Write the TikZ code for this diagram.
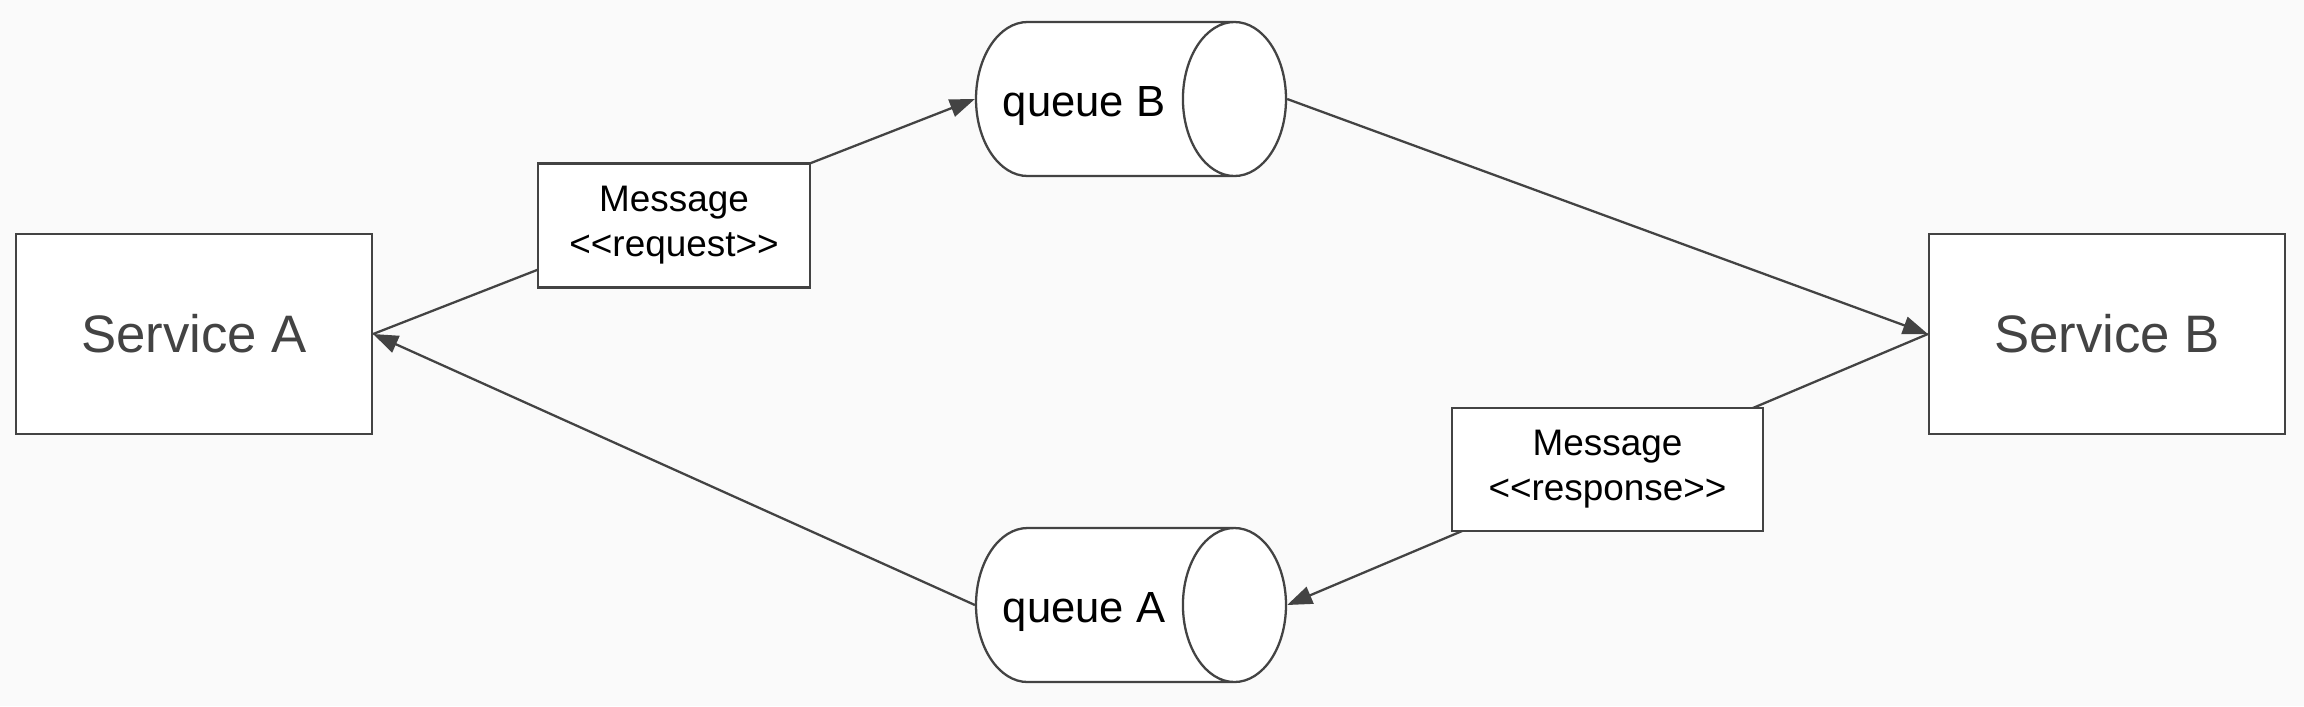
\documentclass[tikz,border=0pt]{standalone}
\usepackage{fontspec}
\setmainfont{Liberation Sans}
\usetikzlibrary{shapes.geometric,arrows.meta}
\definecolor{bggrey}{HTML}{FAFAFA}
\definecolor{linegrey}{HTML}{434343}
\tikzset{
  service/.style={draw=linegrey,fill=white,line width=0.65pt,minimum width=3.56cm,minimum height=2cm,text=linegrey,font=\fontsize{15}{18}\selectfont},
  queue/.style={cylinder,draw=linegrey,fill=white,line width=0.65pt,shape aspect=1.36,minimum height=3.1cm,minimum width=1.54cm,text height=12.3pt,text depth=2.6pt,font=\fontsize{12.4}{15}\selectfont},
  msgbox/.style={draw=linegrey,fill=white,line width=0.65pt,align=center,font=\fontsize{10.5}{12.8}\selectfont},
  flow/.style={draw=linegrey,line width=0.65pt,-{Triangle[length=2.5mm,width=1.8mm]}},
  link/.style={draw=linegrey,line width=0.65pt}
}
\begin{document}
\begin{tikzpicture}
  \fill[bggrey] (0,0) rectangle (23.04,7.06);
  \useasboundingbox (0,0) rectangle (23.04,7.06);
  \node[service] (SvcA) at (1.94,3.72) {Service A};
  \node[service] (SvcB) at (21.07,3.72) {Service B};
  \node[queue,anchor=shape center] (QueueB) at (11.31,6.07) {\hspace*{-0.14cm}queue B};
  \node[queue,anchor=shape center] (QueueA) at (11.31,1.01) {\hspace*{-0.14cm}queue A};
  % request goes out over queue B
  \draw[flow] (SvcA.east) -- node[msgbox,minimum width=2.72cm,minimum height=1.24cm,yshift=-0.09cm] (Req) {Message\\<\kern0pt<request>\kern0pt>} (QueueB.west);
  \draw[flow] (QueueB.east) -- (SvcB.west);
  % response comes back over queue A
  \draw[flow] (SvcB.west) -- node[msgbox,minimum width=3.11cm,minimum height=1.23cm] (Resp) {Message\\<\kern0pt<response>\kern0pt>} (QueueA.east);
  \draw[flow] (QueueA.west) -- (SvcA.east);
\end{tikzpicture}
\end{document}
